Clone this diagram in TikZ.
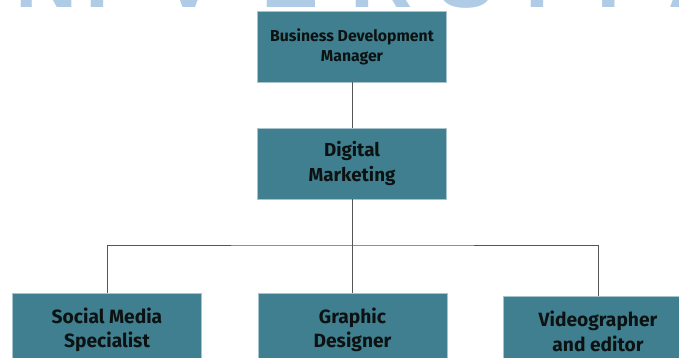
\documentclass[tikz,border=0pt]{standalone}
\usepackage{fontspec}
\setmainfont{Fira Sans}
\newfontfamily\wmfont{Liberation Sans}
\definecolor{boxfill}{HTML}{407F8F}
\definecolor{boxedge}{HTML}{A7C3CB}
\definecolor{linecol}{HTML}{555555}
\definecolor{txtcol}{HTML}{0C1212}
\definecolor{wmcol}{HTML}{AFCBE6}
\begin{document}
\begin{tikzpicture}[x=1pt,y=-1pt,
  orgbox/.style={rectangle, fill=boxfill, draw=boxedge, line width=0.6pt,
    minimum width=189pt, minimum height=71pt, inner sep=0pt, align=center,
    text=txtcol, font=\fontsize{18.8}{24.5}\selectfont\bfseries},
  lowbox/.style={orgbox, minimum height=74pt, font=\fontsize{19.2}{24.5}\selectfont\bfseries},
  smallbox/.style={orgbox, font=\fontsize{15.8}{20}\selectfont\bfseries},
  conn/.style={draw=linecol, line width=0.9pt},
  wm/.style={text=wmcol, font=\wmfont\fontsize{86}{86}\selectfont\bfseries, anchor=base, inner sep=0pt}]
\useasboundingbox (0,0) rectangle (679,358);
\fill[white] (0,0) rectangle (679,358);
% watermark remnants at the top edge
\begin{scope}
\clip (0,0) rectangle (679,9);
\node[wm] (w1) at (47,8) {N};
\node[wm] (w2) at (97,8) {I};
\node[wm] (w3) at (189,8) {V};
\node[wm] (w4) at (290,8) {E};
\node[wm] (w5) at (382,8) {R};
\node[wm] (w6) at (466,8) {S};
\node[wm] (w7) at (537,8) {I};
\node[wm] (w8) at (609,8) {T};
\node[wm] (w9) at (700,8) {A};
\end{scope}
\begin{scope}
\clip (0,0) rectangle (679,358);
\node[smallbox] (bdm) at (352,46.5) {Business Development\\Manager};
\node[orgbox] (dm) at (352,163.5) {Digital\\Marketing};
\node[lowbox] (sms) at (107,330) {Social Media\\Specialist};
\node[lowbox] (gd) at (352.5,330) {Graphic\\Designer};
\node[orgbox, font=\fontsize{19.2}{24.5}\selectfont\bfseries] (vid) at (598,331.5) {Videographer\\and editor};
\end{scope}
\coordinate (j) at (352,245);
\draw[conn] (bdm.south) -- (dm.north);
\draw[conn] (dm.south) -- (dm.south |- gd.north);
\draw[conn] (sms.north) |- (j) -| (vid.north);
\end{tikzpicture}
\end{document}
